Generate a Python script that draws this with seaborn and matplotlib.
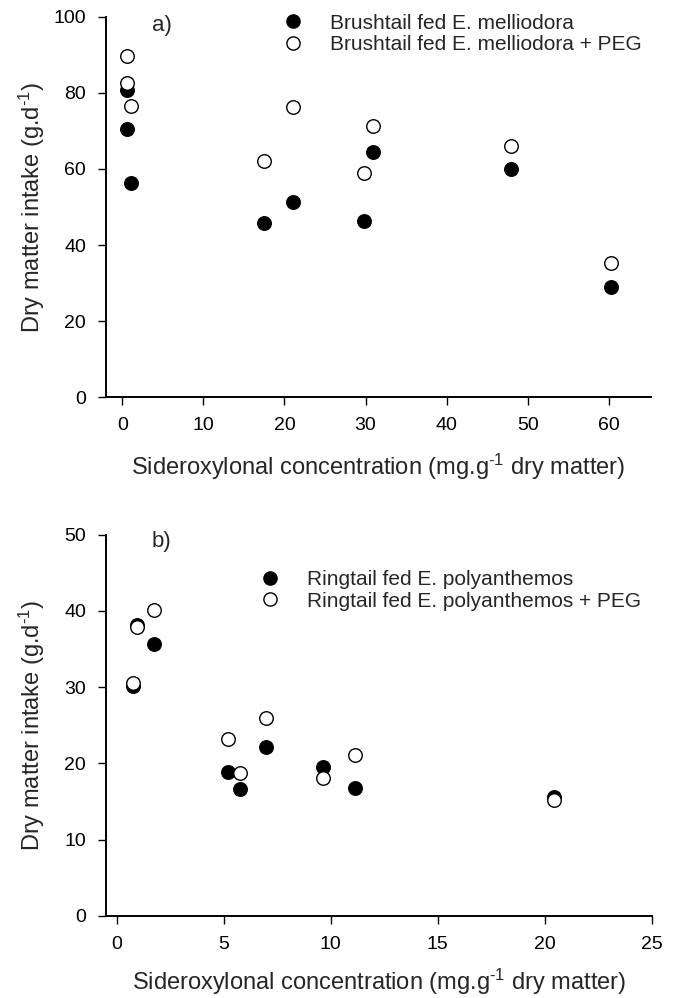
import matplotlib
matplotlib.use("Agg")
import matplotlib.pyplot as plt
import seaborn as sns
import pandas as pd
from matplotlib.lines import Line2D

# Panel a: Brushtail fed E. melliodora
a_x_fed = [0.54, 0.54, 1.03, 17.5, 21.1, 29.8, 30.9, 47.9, 60.3]
a_y_fed = [80.7, 70.5, 56.4, 45.9, 51.2, 46.2, 64.4, 59.9, 28.9]
a_x_peg = [0.54, 0.54, 1.03, 17.5, 21.1, 29.8, 30.9, 47.9, 60.3]
a_y_peg = [89.7, 82.6, 76.5, 62.1, 76.3, 58.9, 71.3, 66.0, 35.4]

# Panel b: Ringtail fed E. polyanthemos
b_x_fed = [0.78, 0.96, 1.74, 5.19, 5.76, 6.96, 9.65, 11.15, 20.45]
b_y_fed = [30.2, 38.2, 35.7, 18.9, 16.7, 22.2, 19.5, 16.8, 15.6]
b_x_peg = [0.78, 0.96, 1.74, 5.19, 5.76, 6.96, 9.65, 11.15, 20.45]
b_y_peg = [30.5, 37.9, 40.1, 23.2, 18.8, 26.0, 18.1, 21.1, 15.2]

labels_a = ["Brushtail fed E. melliodora", "Brushtail fed E. melliodora + PEG"]
labels_b = ["Ringtail fed E. polyanthemos", "Ringtail fed E. polyanthemos + PEG"]
xticks_a = [0, 10, 20, 30, 40, 50, 60]
yticks_a = [0, 20, 40, 60, 80, 100]
xticks_b = [0, 5, 10, 15, 20, 25]
yticks_b = [0, 10, 20, 30, 40, 50]

sns.set_theme(style="ticks")
plt.rcParams['font.family'] = ['Liberation Sans', 'DejaVu Sans']
plt.rcParams['mathtext.fontset'] = 'custom'
plt.rcParams['mathtext.rm'] = 'Liberation Sans'
plt.rcParams['mathtext.it'] = 'Liberation Sans:italic'
plt.rcParams['mathtext.bf'] = 'Liberation Sans:bold'

fig = plt.figure(figsize=(6.77, 9.98), dpi=100)
ax1 = fig.add_axes([0.1566, 0.6019, 0.805, 0.3814])
ax2 = fig.add_axes([0.1566, 0.0822, 0.806, 0.3821])

MS = 95
XLAB = "Sideroxylonal concentration (mg.g$^{\u2010 1}$ dry matter)"
YLAB = "Dry matter intake (g.d$^{\u2010 1}$)"

def panel(ax, xf, yf, xp, yp, labels, xticks, yticks, xlim, ylim, tag, tagpos,
          legpos, xlab_y):
    df_f = pd.DataFrame({"x": xf, "y": yf})
    df_p = pd.DataFrame({"x": xp, "y": yp})
    sns.scatterplot(data=df_f, x="x", y="y", ax=ax, s=MS, color="black",
                    edgecolor="black", linewidth=1.0, zorder=3)
    sns.scatterplot(data=df_p, x="x", y="y", ax=ax, s=MS, facecolor="white",
                    edgecolor="black", linewidth=1.0, zorder=4)
    ax.set_xlim(*xlim)
    ax.set_ylim(*ylim)
    ax.set_xticks(xticks)
    ax.set_yticks(yticks)
    sns.despine(ax=ax)
    for s in ["left", "bottom"]:
        ax.spines[s].set_linewidth(1.4)
        ax.spines[s].set_color("black")
    ax.tick_params(axis="both", direction="out", length=5.5, width=1.0,
                   colors="black", labelsize=14, pad=9)
    ax.set_xlabel(XLAB, fontsize=17)
    ax.set_ylabel(YLAB, fontsize=17)
    ax.xaxis.set_label_coords(0.5, xlab_y)
    ax.xaxis.label.set_va("center")
    ax.yaxis.set_label_coords(-0.136, 0.5)
    ax.yaxis.label.set_va("center")
    ax.text(tagpos[0], tagpos[1], tag, transform=ax.transAxes, fontsize=16,
            va="center", ha="left")
    handles = [
        Line2D([], [], marker="o", linestyle="none", markersize=9.5,
               markerfacecolor="black", markeredgecolor="black"),
        Line2D([], [], marker="o", linestyle="none", markersize=9.5,
               markerfacecolor="white", markeredgecolor="black"),
    ]
    ax.legend(handles, labels, loc="center left", bbox_to_anchor=legpos,
              frameon=False, fontsize=15, handletextpad=1.28,
              labelspacing=0.12, borderaxespad=0, borderpad=0,
              handlelength=1.0)

panel(ax1, a_x_fed, a_y_fed, a_x_peg, a_y_peg, labels_a, xticks_a, yticks_a,
      (-2.0, 65.2), (0, 100), "a)", (0.084, 0.978), (0.324, 0.955), -0.184)
panel(ax2, b_x_fed, b_y_fed, b_x_peg, b_y_peg, labels_b, xticks_b, yticks_b,
      (-0.5, 25), (0, 50), "b)", (0.084, 0.982), (0.281, 0.854), -0.172)

fig.savefig("out.png", dpi=100)
